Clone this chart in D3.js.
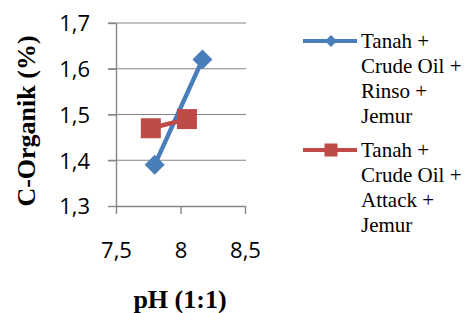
<!DOCTYPE html>
<html>
<head>
<meta charset="utf-8">
<script src="https://cdn.jsdelivr.net/npm/d3@7"></script>
<style>
  body { margin: 0; background: #fff; }
  svg { display: block; }
</style>
</head>
<body>
<svg id="svg"></svg>
<script>
const width = 466;
const height = 313;

// data
const seriesNames = [
    ["Tanah +", "Crude Oil +", "Rinso +", "Jemur"],
    ["Tanah +", "Crude Oil +", "Attack +", "Jemur"]
];
const rinsoPH = [7.8, 8.17];
const rinsoC = [1.39, 1.62];
const attackPH = [7.77, 8.05];
const attackC = [1.47, 1.49];
const xTicks = [7.5, 8, 8.5];
const yTicks = [1.3, 1.4, 1.5, 1.6, 1.7];

const colours = ["#4A7EBB", "#BE4B48"];
const gridColour = "#868686";

let svg = d3.select("#svg").attr("width", width).attr("height", height);

const xScale = d3.scaleLinear().domain([7.5, 8.5]).range([116, 245]);
const yScale = d3.scaleLinear().domain([1.3, 1.7]).range([206, 23]);

const fmt = d => String(d).replace(".", ",");

// gridlines
svg.selectAll(".grid")
    .data(yTicks.filter(d => d > 1.3))
    .enter().append("line")
    .attr("x1", 108).attr("x2", 246)
    .attr("y1", d => yScale(d)).attr("y2", d => yScale(d))
    .attr("stroke", gridColour).attr("stroke-width", 1.2);

// y axis
let yAxis = svg.append("g")
    .attr("transform", "translate(116,0)")
    .call(d3.axisLeft(yScale).tickValues(yTicks).tickSize(8).tickSizeOuter(0).tickFormat(fmt).tickPadding(18));

// x axis
let xAxis = svg.append("g")
    .attr("transform", "translate(0,206)")
    .call(d3.axisBottom(xScale).tickValues(xTicks).tickSize(8).tickSizeOuter(0).tickFormat(fmt));

[yAxis, xAxis].forEach(ax => {
    ax.select(".domain").attr("stroke", gridColour).attr("stroke-width", 1.4);
    ax.selectAll(".tick line").attr("stroke", gridColour).attr("stroke-width", 1.4);
    ax.selectAll("text")
        .attr("fill", "#000")
        .style("font-family", "'Open Sans', 'Liberation Sans', sans-serif")
        .style("font-size", "22px");
});
yAxis.selectAll("text").attr("dy", "0.36em");
xAxis.selectAll("text").attr("y", 52).attr("dy", 0);

// axis titles
svg.append("text")
    .attr("transform", "translate(35,121) rotate(-90)")
    .attr("text-anchor", "middle")
    .style("font-family", "'Liberation Serif', serif")
    .style("font-weight", "bold")
    .style("font-size", "26px")
    .text("C-Organik (%)");

svg.append("text")
    .attr("x", 180).attr("y", 308)
    .attr("text-anchor", "middle")
    .style("font-family", "'Liberation Serif', serif")
    .style("font-weight", "bold")
    .style("font-size", "26px")
    .text("pH (1:1)");

// series
const series = [
    { x: rinsoPH, y: rinsoC, marker: "diamond" },
    { x: attackPH, y: attackC, marker: "square" }
];

const line = d3.line().x(d => xScale(d[0])).y(d => yScale(d[1]));

function drawMarker(g, type, colour, cx, cy, size) {
    if (type === "diamond") {
        // symbolDiamond2 half-diagonal = sqrt(area) * 0.62625
        const area = Math.pow(size / 2 / 0.62625, 2);
        g.append("path")
            .attr("d", d3.symbol(d3.symbolDiamond2, area)())
            .attr("transform", `translate(${cx},${cy})`)
            .attr("fill", colour);
    } else {
        g.append("rect")
            .attr("x", cx - size / 2).attr("y", cy - size / 2)
            .attr("width", size).attr("height", size)
            .attr("fill", colour);
    }
}

series.forEach((s, i) => {
    const pts = s.x.map((v, j) => [v, s.y[j]]);
    const g = svg.append("g");
    g.append("path")
        .attr("d", line(pts))
        .attr("fill", "none")
        .attr("stroke", colours[i])
        .attr("stroke-width", 4.5);
    pts.forEach(p => drawMarker(g, s.marker, colours[i], xScale(p[0]), yScale(p[1]), 20));
});

// legend
const legendTop = [41, 150];
seriesNames.forEach((names, i) => {
    const g = svg.append("g");
    const y = legendTop[i];
    g.append("line")
        .attr("x1", 303).attr("x2", 357)
        .attr("y1", y).attr("y2", y)
        .attr("stroke", colours[i]).attr("stroke-width", 4);
    drawMarker(g, series[i].marker, colours[i], 331, y, series[i].marker === "diamond" ? 12 : 13);
    g.selectAll("text")
        .data(names)
        .enter().append("text")
        .attr("x", 361)
        .attr("y", (d, k) => y + 7 + k * 25)
        .style("font-family", "'Liberation Serif', serif")
        .style("font-size", "21px")
        .text(d => d);
});
</script>
</body>
</html>
